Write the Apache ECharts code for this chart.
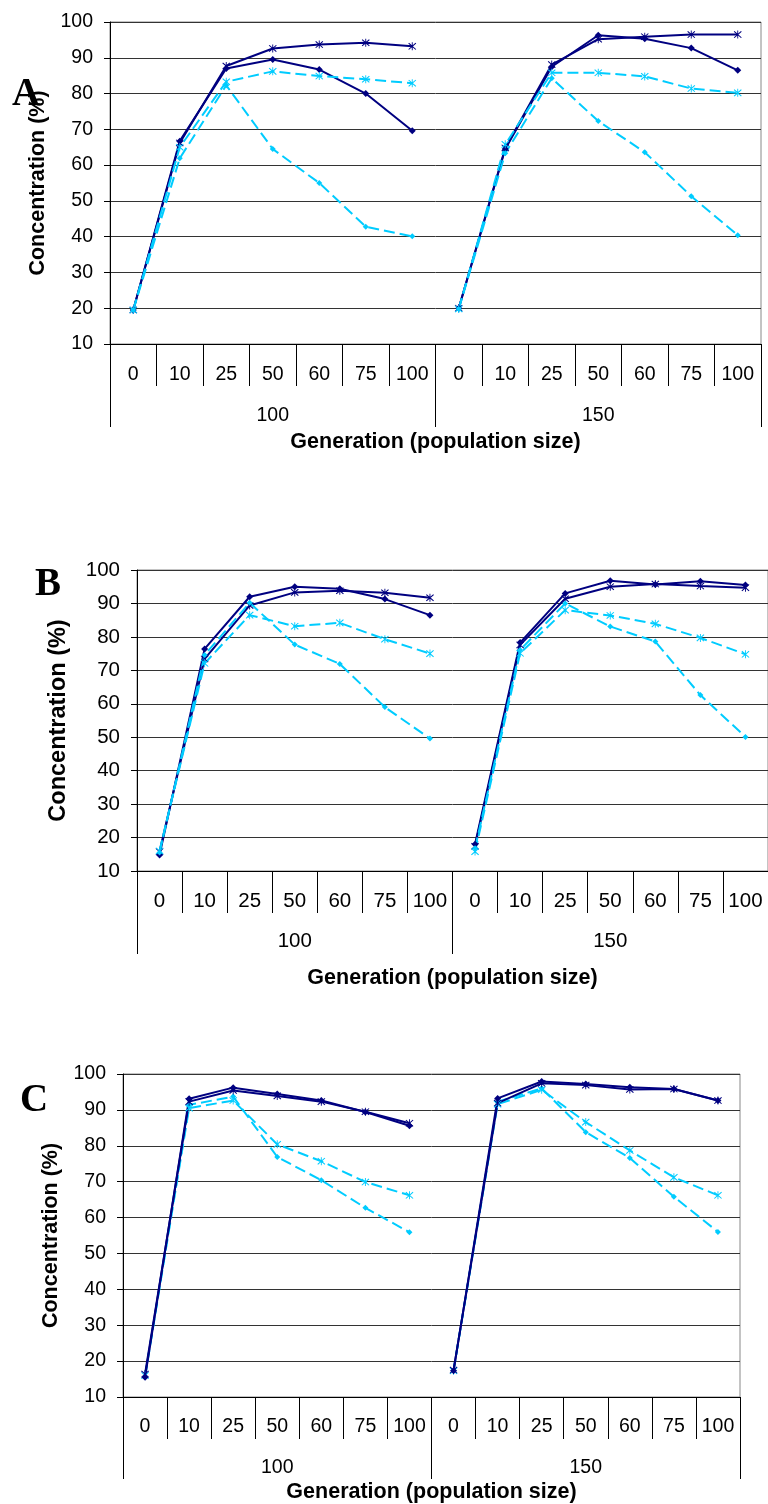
<!DOCTYPE html>
<html>
<head>
<meta charset="utf-8">
<script src="https://cdn.jsdelivr.net/npm/echarts@6/dist/echarts.min.js"></script>
<style>
html,body{margin:0;padding:0;background:#fff;}
#chart{width:768px;height:1504px;}
</style>
</head>
<body>
<div id="chart"></div>
<script>
// ---- data ----
var genLabels = ['0','10','25','50','60','75','100'];
var groupLabels = ['100','150'];
var panelLetters = ['A','B','C'];
var yTitle = 'Concentration (%)';
var xTitle = 'Generation (population size)';

// first 7 values: population 100, last 7: population 150
var aNavyDiamond = [19.5, 66.7, 87.0, 89.5, 86.7, 80.0, 69.6,   20.0, 64.5, 87.5, 96.3, 95.3, 92.7, 86.5];
var aNavyStar    = [19.5, 66.2, 87.7, 92.6, 93.7, 94.2, 93.2,   20.0, 64.8, 88.1, 95.2, 95.9, 96.5, 96.5];
var aCyanDiamond = [19.5, 61.9, 82.3, 64.5, 55.0, 42.8, 40.1,   19.8, 63.3, 84.3, 72.3, 63.6, 51.3, 40.4];
var aCyanStar    = [19.5, 65.0, 83.3, 86.2, 84.9, 84.0, 82.9,   19.8, 65.8, 85.8, 85.8, 84.8, 81.4, 80.2];

var bNavyDiamond = [14.8, 76.4, 92.0, 95.0, 94.4, 91.3, 86.5,   18.0, 78.3, 93.0, 96.8, 95.7, 96.6, 95.5];
var bNavyStar    = [15.8, 73.4, 89.4, 93.3, 93.8, 93.2, 91.7,   17.4, 77.6, 91.4, 95.0, 95.8, 95.2, 94.7];
var bCyanDiamond = [15.5, 74.6, 90.2, 77.7, 71.9, 59.0, 49.6,   16.8, 76.1, 90.0, 83.1, 78.6, 62.6, 50.1];
var bCyanStar    = [16.0, 72.1, 86.5, 83.2, 84.2, 79.3, 75.0,   15.8, 75.1, 88.0, 86.4, 83.9, 79.7, 74.8];

var cNavyDiamond = [15.5, 93.1, 96.2, 94.4, 92.6, 89.4, 85.6,   17.3, 93.2, 97.9, 97.2, 96.3, 95.8, 92.6];
var cNavyStar    = [16.4, 92.3, 95.4, 93.9, 92.3, 89.5, 86.3,   17.5, 91.9, 97.4, 96.9, 95.7, 95.8, 92.6];
var cCyanDiamond = [15.5, 91.4, 93.7, 76.9, 70.4, 62.7, 55.9,   17.3, 92.3, 96.0, 83.8, 76.6, 65.8, 56.0];
var cCyanStar    = [16.0, 90.5, 92.6, 80.4, 75.7, 69.9, 66.2,   17.3, 91.6, 95.6, 86.6, 78.7, 71.2, 66.2];

// ---- layout / style ----
var NAVY = '#000080', CYAN = '#00CCFF';
var STAR = 'path://M-0.1,-1L0.1,-1L0.1,1L-0.1,1Z M-0.715,-0.885L0.885,0.715L0.715,0.885L-0.885,-0.715Z M0.715,-0.885L0.885,-0.715L-0.715,0.885L-0.885,0.715Z';
var FONT = "'Liberation Sans', Arial, sans-serif";

var panels = [
  {grid:{left:110, top:22, width:651, height:322}, tick:19.5, title:21.5, yGap:51, xGap:87, catM:21, grpM:62, tickL:42, sepL:83,
   letter:{x:12, y:95}, series:[aNavyDiamond,aNavyStar,aCyanDiamond,aCyanStar], cyanFirst:false},
  {grid:{left:137, top:570, width:633, height:301}, tick:20.5, title:21.5, yTitle:23.5, yGap:66, xGap:96, catM:20, grpM:60, tickL:42, sepL:83,
   letter:{x:35, y:585}, series:[bNavyDiamond,bNavyStar,bCyanDiamond,bCyanStar], cyanFirst:false},
  {grid:{left:123, top:1074, width:617, height:323}, tick:19.5, title:21.5, yGap:61, xGap:84, catM:20, grpM:61, tickL:42, sepL:82,
   letter:{x:20, y:1101}, series:[cNavyDiamond,cNavyStar,cCyanDiamond,cCyanStar], cyanFirst:true}
];

var cats = genLabels.concat(genLabels);
var grids = [], xAxes = [], yAxes = [], series = [], graphics = [];

function pad(n){ var r=[]; for(var i=0;i<n;i++) r.push('-'); return r; }

var kinds = [
  {color:NAVY, symbol:'diamond', size:7, dash:'solid'},
  {color:NAVY, symbol:STAR, size:8, dash:'solid'},
  {color:CYAN, symbol:'diamond', size:6, dash:[11,5]},
  {color:CYAN, symbol:STAR, size:8, dash:[11,5]}
];

panels.forEach(function(p, i){
  grids.push({left:p.grid.left, top:p.grid.top, width:p.grid.width, height:p.grid.height,
    show:true, borderColor:'#888', borderWidth:1, backgroundColor:'transparent'});
  xAxes.push({gridIndex:i, type:'category', data:cats, position:'bottom', boundaryGap:true,
    axisLine:{show:true, lineStyle:{color:'#000', width:1}},
    axisTick:{show:true, interval:0, length:p.tickL, lineStyle:{color:'#000', width:1}},
    axisLabel:{interval:0, margin:p.catM, fontSize:p.tick, color:'#000', fontFamily:FONT},
    splitLine:{show:false}});
  xAxes.push({gridIndex:i, type:'category', data:groupLabels, position:'bottom', boundaryGap:true,
    axisLine:{show:false},
    axisTick:{show:true, interval:0, length:p.sepL, lineStyle:{color:'#000', width:1}},
    axisLabel:{interval:0, margin:p.grpM, fontSize:p.tick, color:'#000', fontFamily:FONT},
    splitLine:{show:false},
    name:xTitle, nameLocation:'middle', nameGap:p.xGap,
    nameTextStyle:{fontWeight:'bold', fontSize:p.title, color:'#000', fontFamily:FONT}});
  yAxes.push({gridIndex:i, type:'value', min:10, max:100, interval:10,
    axisLine:{show:true, lineStyle:{color:'#000', width:1}},
    axisTick:{show:true, length:6, lineStyle:{color:'#000'}},
    axisLabel:{margin:17, fontSize:p.tick, color:'#000', fontFamily:FONT},
    splitLine:{show:true, lineStyle:{color:'#333', width:1}},
    name:yTitle, nameLocation:'middle', nameGap:p.yGap,
    nameTextStyle:{fontWeight:'bold', fontSize:(p.yTitle||p.title), color:'#000', fontFamily:FONT}});

  var order = p.cyanFirst ? [2,3,0,1] : [0,1,2,3];
  order.forEach(function(k){
    var d = p.series[k], kd = kinds[k];
    var halves = [d.slice(0,7).concat(pad(7)), pad(7).concat(d.slice(7))];
    halves.forEach(function(h){
      series.push({type:'line', xAxisIndex:2*i, yAxisIndex:i, data:h,
        symbol:kd.symbol, symbolSize:kd.size, showSymbol:true, connectNulls:false,
        lineStyle:{color:kd.color, width:2, type:kd.dash},
        itemStyle:{color:kd.color}, emphasis:{disabled:true}, silent:true});
    });
  });

  graphics.push({type:'text', left:p.letter.x, top:p.letter.y - 20,
    style:{text:panelLetters[i], font:"bold 39px 'Liberation Serif', 'Times New Roman', serif", fill:'#000'}});
});

var chart = echarts.init(document.getElementById('chart'), null, {renderer:'canvas', width:768, height:1504});
chart.setOption({
  animation:false,
  backgroundColor:'#fff',
  grid:grids, xAxis:xAxes, yAxis:yAxes, series:series, graphic:graphics
});
</script>
</body>
</html>
